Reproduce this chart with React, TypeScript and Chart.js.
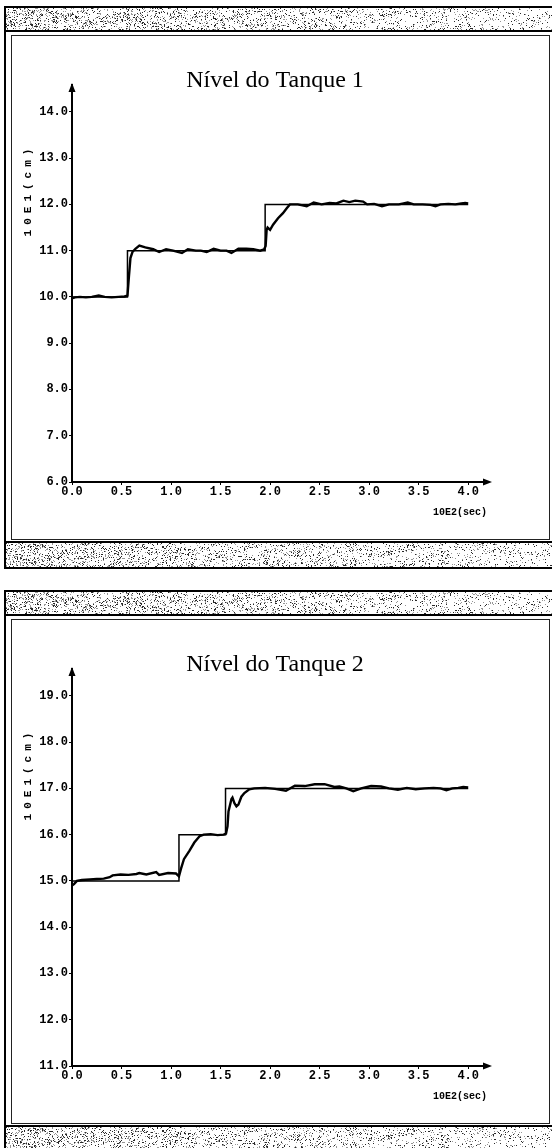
import React, { useEffect, useRef } from "react";
import { Chart, registerables } from "chart.js";

Chart.register(...registerables);

// Time is given in units of 10E2 s, level in units of 10E1 cm.
const timeTicks = [0, 0.5, 1.0, 1.5, 2.0, 2.5, 3.0, 3.5, 4.0];
const levelTicks1 = [6, 7, 8, 9, 10, 11, 12, 13, 14];
const levelTicks2 = [11, 12, 13, 14, 15, 16, 17, 18, 19];

// Tank 1: setpoint (stepped) and measured level
const setpointTime1 = [0, 0.56, 1.95, 4.0];
const setpointLevel1 = [10, 11, 12, 12];
const levelTime1 = [
  0.0, 0.03, 0.08, 0.14, 0.2, 0.27, 0.33, 0.4, 0.47, 0.53, 0.56, 0.575, 0.59,
  0.61, 0.64, 0.68, 0.74, 0.82, 0.88, 0.95, 1.02, 1.11, 1.17, 1.25, 1.3, 1.36,
  1.43, 1.5, 1.56, 1.61, 1.68, 1.76, 1.83, 1.9, 1.94, 1.955, 1.965, 1.975, 2.0,
  2.03, 2.08, 2.13, 2.17, 2.2, 2.28, 2.37, 2.44, 2.52, 2.6, 2.67, 2.74, 2.8,
  2.86, 2.94, 2.98, 3.05, 3.13, 3.2, 3.3, 3.39, 3.45, 3.54, 3.62, 3.67, 3.72,
  3.8, 3.87, 3.93, 3.97, 4.0,
];
const level1 = [
  9.97, 9.99, 10.0, 9.99, 10.0, 10.03, 10.0, 9.99, 10.0, 10.01, 10.03, 10.45,
  10.84, 10.97, 11.04, 11.11, 11.07, 11.03, 10.97, 11.03, 11.0, 10.95, 11.03,
  11.0, 11.0, 10.97, 11.04, 11.0, 11.0, 10.95, 11.04, 11.04, 11.03, 11.0, 11.03,
  11.1, 11.45, 11.5, 11.45, 11.56, 11.7, 11.81, 11.92, 12.0, 12.0, 11.96, 12.04,
  12.0, 12.03, 12.02, 12.08, 12.05, 12.08, 12.06, 12.0, 12.01, 11.96, 12.0,
  12.0, 12.04, 12.0, 12.0, 11.99, 11.96, 12.0, 12.01, 12.0, 12.02, 12.03, 12.02,
];

// Tank 2: setpoint (stepped) and measured level
const setpointTime2 = [0, 1.08, 1.55, 4.0];
const setpointLevel2 = [15, 16, 17, 17];
const levelTime2 = [
  0.0, 0.02, 0.05, 0.1, 0.18, 0.25, 0.32, 0.38, 0.41, 0.49, 0.57, 0.65, 0.68,
  0.75, 0.85, 0.88, 0.97, 1.05, 1.08, 1.1, 1.13, 1.185, 1.235, 1.29, 1.33, 1.4,
  1.47, 1.53, 1.555, 1.57, 1.58, 1.61, 1.62, 1.64, 1.66, 1.68, 1.71, 1.74, 1.79,
  1.84, 1.95, 2.05, 2.16, 2.25, 2.35, 2.45, 2.55, 2.65, 2.7, 2.77, 2.84, 2.92,
  3.02, 3.12, 3.2, 3.29, 3.38, 3.47, 3.56, 3.65, 3.72, 3.78, 3.84, 3.9, 3.95,
  4.0,
];
const level2 = [
  14.9, 14.93, 15.0, 15.02, 15.03, 15.04, 15.05, 15.08, 15.12, 15.14, 15.13,
  15.15, 15.17, 15.14, 15.19, 15.13, 15.17, 15.16, 15.1, 15.26, 15.47, 15.65,
  15.83, 15.97, 16.0, 16.01, 15.99, 16.0, 16.02, 16.18, 16.5, 16.77, 16.8,
  16.68, 16.61, 16.65, 16.82, 16.9, 16.98, 17.0, 17.01, 16.99, 16.95, 17.06,
  17.05, 17.09, 17.09, 17.03, 17.04, 17.0, 16.94, 17.0, 17.05, 17.04, 17.0,
  16.97, 17.01, 16.98, 17.0, 17.01, 17.0, 16.96, 17.0, 17.01, 17.03, 17.02,
];

const TIME_MAX = 4.2;
const LEVEL_SPAN = 8.58;
const MONO = "'Liberation Mono', 'DejaVu Sans Mono', monospace";
const SERIF = "'Liberation Serif', 'Times New Roman', serif";

const CANVAS_W = 537;
const CANVAS_H = 503;

const panelDecor = {
  id: "panelDecor",
  afterDraw(chart: any, _args: any, opts: any) {
    const { ctx, chartArea: a } = chart;
    ctx.save();
    ctx.fillStyle = "#000";

    // arrowheads at the open ends of both axes
    ctx.beginPath();
    ctx.moveTo(a.left, a.top - 2);
    ctx.lineTo(a.left - 3.5, a.top + 7);
    ctx.lineTo(a.left + 3.5, a.top + 7);
    ctx.closePath();
    ctx.fill();
    ctx.beginPath();
    ctx.moveTo(a.right + 4, a.bottom);
    ctx.lineTo(a.right - 5, a.bottom - 3.5);
    ctx.lineTo(a.right - 5, a.bottom + 3.5);
    ctx.closePath();
    ctx.fill();

    // chart title
    ctx.font = `24px ${SERIF}`;
    ctx.textAlign = "center";
    ctx.textBaseline = "middle";
    ctx.fillText(opts.title, 263, 45);

    // time unit under the axis end
    ctx.font = `bold 10px ${MONO}`;
    ctx.textAlign = "right";
    ctx.fillText(opts.xTitle, a.right - 1, a.bottom + 30);

    // vertical level unit
    ctx.translate(16, 154);
    ctx.rotate(-Math.PI / 2);
    ctx.font = `bold 11px ${MONO}`;
    (ctx as any).letterSpacing = "5px";
    ctx.textAlign = "center";
    ctx.fillText(opts.yTitle, 0, 0);
    ctx.restore();
  },
};

// Stippled title/status bar of the window frame
function Stipple({ top, height }: { top: number; height: number }) {
  const ref = useRef<HTMLCanvasElement | null>(null);
  const width = 546;
  useEffect(() => {
    const c = ref.current;
    if (!c) return;
    const ctx = c.getContext("2d");
    if (!ctx) return;
    const img = ctx.createImageData(width, height);
    for (let y = 0; y < height; y++) {
      for (let x = 0; x < width; x++) {
        let h = (x * 374761393 + y * 668265263 + top * 2246822519) | 0;
        h = Math.imul(h ^ (h >>> 13), 1274126177);
        h = (h ^ (h >>> 16)) >>> 0;
        const r = (h % 1000) / 1000;
        const cluster = 0.5 + 0.5 * Math.sin(x * 0.09 + Math.sin(x * 0.023) * 3) * Math.cos(y * 0.4 + x * 0.05);
        const density = (0.26 - 0.16 * (x / width)) * (0.55 + 0.9 * cluster);
        const i = (y * width + x) * 4;
        let v = 255;
        if (r < density * 0.45) v = 40;
        else if (r < density) v = 150;
        img.data[i] = v;
        img.data[i + 1] = v;
        img.data[i + 2] = v;
        img.data[i + 3] = 255;
      }
    }
    ctx.putImageData(img, 0, 0);
  }, []);
  return (
    <canvas
      ref={ref}
      width={width}
      height={height}
      style={{ position: "absolute", left: 6, top, width, height, display: "block" }}
    />
  );
}

type PanelProps = {
  top: number;
  title: string;
  levelTicks: number[];
  spTime: number[];
  spLevel: number[];
  pvTime: number[];
  pvLevel: number[];
};

function TankPanel({ top, title, levelTicks, spTime, spLevel, pvTime, pvLevel }: PanelProps) {
  const ref = useRef<HTMLCanvasElement | null>(null);

  useEffect(() => {
    if (!ref.current) return;
    const yMin = levelTicks[0];
    const chart = new Chart(ref.current, {
      type: "line",
      data: {
        datasets: [
          {
            data: spTime.map((t, i) => ({ x: t, y: spLevel[i] })),
            stepped: true,
            borderColor: "#000",
            borderWidth: 1.5,
            pointRadius: 0,
          },
          {
            data: pvTime.map((t, i) => ({ x: t, y: pvLevel[i] })),
            borderColor: "#000",
            borderWidth: 2.4,
            pointRadius: 0,
            tension: 0,
          },
        ],
      },
      options: {
        animation: false,
        responsive: false,
        devicePixelRatio: 1,
        events: [],
        layout: { padding: { left: 14, right: 61, top: 49, bottom: 27 } },
        plugins: {
          legend: { display: false },
          tooltip: { enabled: false },
          panelDecor: { title, xTitle: "10E2(sec)", yTitle: "10E1(cm)" },
        } as any,
        scales: {
          x: {
            type: "linear",
            min: 0,
            max: TIME_MAX,
            afterBuildTicks: (s: any) => {
              s.ticks = timeTicks.map((v) => ({ value: v }));
            },
            afterFit: (s: any) => {
              s.height = 30;
            },
            ticks: {
              autoSkip: false,
              maxRotation: 0,
              padding: 0,
              color: "#000",
              font: { family: MONO, weight: "bold", size: 12 },
              callback: (v: any) => Number(v).toFixed(1),
            },
            grid: { display: true, drawOnChartArea: false, drawTicks: true, tickLength: 3, color: "#000", lineWidth: 1 },
            border: { display: true, color: "#000", width: 2 },
          },
          y: {
            type: "linear",
            min: yMin,
            max: yMin + LEVEL_SPAN,
            afterBuildTicks: (s: any) => {
              s.ticks = levelTicks.map((v) => ({ value: v }));
            },
            afterFit: (s: any) => {
              s.width = 46;
            },
            ticks: {
              padding: 1,
              color: "#000",
              font: { family: MONO, weight: "bold", size: 12 },
              callback: (v: any) => Number(v).toFixed(1),
            },
            grid: { display: true, drawOnChartArea: false, drawTicks: true, tickLength: 3, color: "#000", lineWidth: 1 },
            border: { display: true, color: "#000", width: 2 },
          },
        },
      } as any,
      plugins: [panelDecor],
    });
    return () => chart.destroy();
  }, []);

  return (
    <div style={{ position: "absolute", left: 0, top, width: 552, height: 563 }}>
      {/* outer frame: left rule, top and bottom rules */}
      <div style={{ position: "absolute", left: 4, top: 0, width: 2, height: 563, background: "#000" }} />
      <div style={{ position: "absolute", left: 4, right: 0, top: 0, height: 2, background: "#000" }} />
      <Stipple top={2} height={22} />
      <div style={{ position: "absolute", left: 4, right: 0, top: 24, height: 2, background: "#000" }} />
      {/* inner chart frame */}
      <div
        style={{
          position: "absolute",
          left: 11,
          top: 29,
          width: 537,
          height: 503,
          border: "1px solid #222",
          background: "#fff",
        }}
      >
        <canvas
          ref={ref}
          width={CANVAS_W}
          height={CANVAS_H}
          style={{ display: "block", width: CANVAS_W, height: CANVAS_H }}
        />
      </div>
      <div style={{ position: "absolute", left: 4, right: 0, top: 535, height: 2, background: "#000" }} />
      <Stipple top={537} height={24} />
      <div style={{ position: "absolute", left: 4, right: 0, top: 561, height: 2, background: "#000" }} />
    </div>
  );
}

export default function App() {
  return (
    <div
      style={{
        position: "absolute",
        left: 0,
        top: 0,
        width: 552,
        height: 1148,
        overflow: "hidden",
        background: "#fff",
      }}
    >
      <TankPanel
        top={6}
        title="Nível do Tanque 1"
        levelTicks={levelTicks1}
        spTime={setpointTime1}
        spLevel={setpointLevel1}
        pvTime={levelTime1}
        pvLevel={level1}
      />
      <TankPanel
        top={590}
        title="Nível do Tanque 2"
        levelTicks={levelTicks2}
        spTime={setpointTime2}
        spLevel={setpointLevel2}
        pvTime={levelTime2}
        pvLevel={level2}
      />
    </div>
  );
}
